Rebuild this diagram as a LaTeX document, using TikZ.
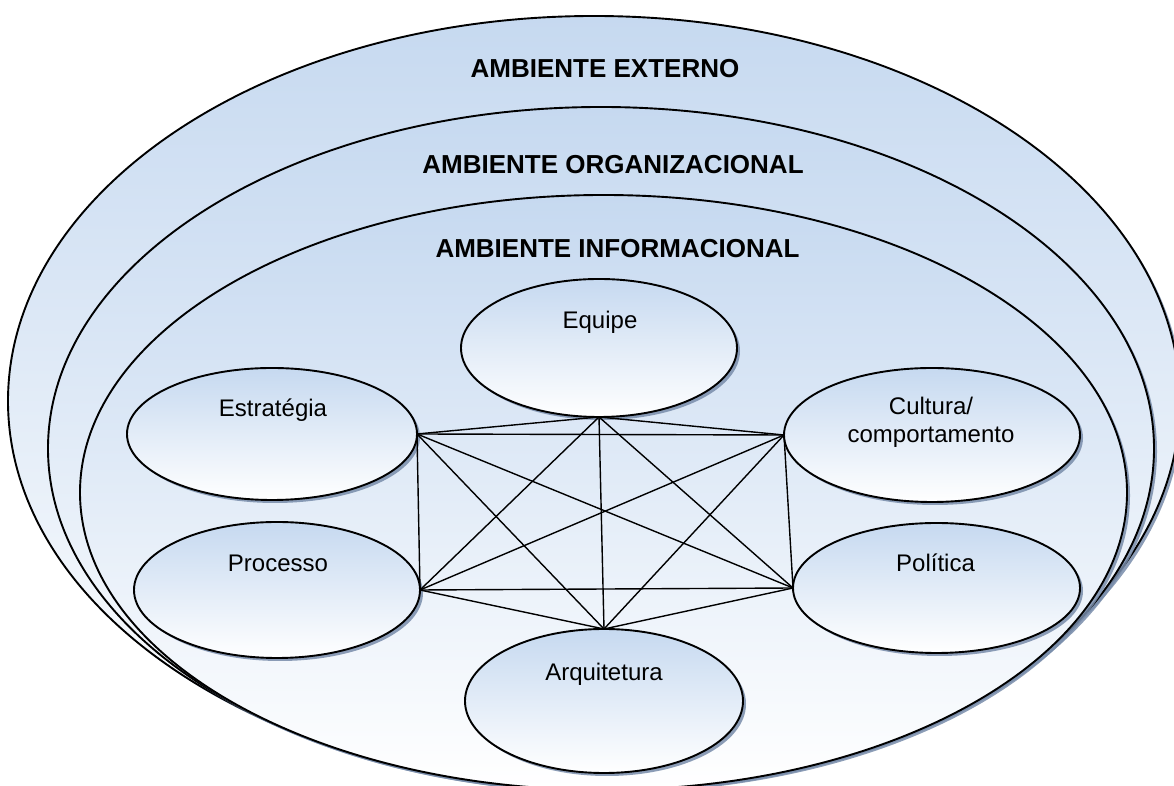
\documentclass[tikz,border=0pt]{standalone}
\usepackage{fontspec}
\setmainfont{Liberation Sans}
\usetikzlibrary{shapes.geometric,shadows}
\definecolor{paleblue}{RGB}{198,217,240}
\definecolor{shadowblue}{RGB}{120,140,170}

\begin{document}
\begin{tikzpicture}[x=1pt, y=1pt, line width=1.9pt]
    \tikzstyle{every node}=[inner sep=0pt, outer sep=0pt];
    \tikzstyle{blob}=[ellipse, draw=black, top color=paleblue, bottom color=white,
        drop shadow={shadow xshift=3pt, shadow yshift=-3pt, fill=shadowblue, opacity=0.85}];
    \tikzstyle{title}=[font=\fontsize{26}{31}\selectfont\bfseries, anchor=base];
    \tikzstyle{tag}=[font=\fontsize{24}{28}\selectfont, anchor=base, align=center];
    \tikzstyle{link}=[line width=1.4pt];

    \useasboundingbox (0,0) rectangle (1174,786);
    \clip (0,0) rectangle (1174,786);

    % the three environments
    \node at (594, 385)   (ext) [blob, minimum width=1172pt, minimum height=770pt] {};
    \node at (601, 337.5) (org) [blob, minimum width=1106pt, minimum height=683pt] {};
    \node at (603.5, 293.5) (inf) [blob, minimum width=1047pt, minimum height=595pt] {};

    \node at ([xshift=11pt, yshift=-61.5pt]ext.north) (extname) [title] {AMBIENTE EXTERNO};
    \node at ([xshift=12pt, yshift=-67pt]org.north) (orgname) [title] {AMBIENTE ORGANIZACIONAL};
    \node at ([xshift=14pt, yshift=-62.5pt]inf.north) (infname) [title] {AMBIENTE INFORMACIONAL};

    % the six elements
    \node at (599, 438)   (equipe) [blob, minimum width=276pt, minimum height=138pt] {};
    \node at (272, 352)   (estr)   [blob, minimum width=290pt, minimum height=132pt] {};
    \node at (277, 196)   (proc)   [blob, minimum width=286pt, minimum height=136pt] {};
    \node at (932, 351)   (cult)   [blob, minimum width=296pt, minimum height=134pt] {};
    \node at (936.5, 198) (pol)    [blob, minimum width=287pt, minimum height=130pt] {};
    \node at (604, 85)    (arq)    [blob, minimum width=278pt, minimum height=144pt] {};

    \node at ([xshift=1pt, yshift=-50pt]equipe.north) (equipename) [tag] {Equipe};
    \node at ([xshift=1pt, yshift=-49pt]estr.north) (estrname) [tag] {Estratégia};
    \node at ([xshift=1pt, yshift=-50pt]proc.north) (procname) [tag] {Processo};
    \node at ([xshift=-1pt, yshift=-75pt]cult.north) (cultname) [tag] {Cultura/\\comportamento};
    \node at ([xshift=-1pt, yshift=-49pt]pol.north) (polname) [tag] {Política};
    \node at ([yshift=-52pt]arq.north) (arqname) [tag] {Arquitetura};

    % every element linked to every other
    \draw[link] (estr.east)
        edge (proc.east)
        edge (equipe.south)
        edge (cult.west)
        edge (pol.west)
        edge (arq.north);
    \draw[link] (proc.east)
        edge (equipe.south)
        edge (cult.west)
        edge (pol.west)
        edge (arq.north);
    \draw[link] (equipe.south)
        edge (cult.west)
        edge (pol.west)
        edge (arq.north);
    \draw[link] (cult.west)
        edge (pol.west)
        edge (arq.north);
    \draw[link] (pol.west)
        edge (arq.north);
\end{tikzpicture}
\end{document}
